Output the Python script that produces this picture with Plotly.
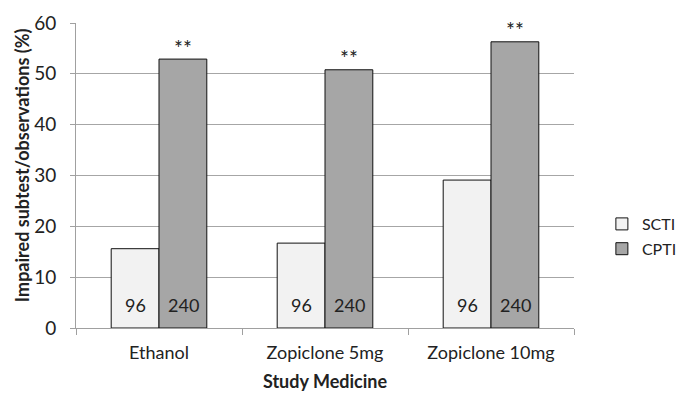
import plotly.graph_objects as go

categories = ["Ethanol", "Zopiclone 5mg", "Zopiclone 10mg"]
scti_values = [15.6, 16.7, 29.1]
cpti_values = [52.9, 50.8, 56.3]
scti_n = ["96", "96", "96"]
cpti_n = ["240", "240", "240"]
significance = ["**", "**", "**"]
y_ticks = [0, 10, 20, 30, 40, 50, 60]

FONT = "Lato, 'Open Sans', sans-serif"
BAR_HALF_PX = 24

fig = go.Figure()
fig.add_trace(go.Bar(
    name="SCTI", x=categories, y=scti_values, legendgroup="a",
    marker=dict(color="#f2f2f2", line=dict(color="#111111", width=1)),
))
fig.add_trace(go.Bar(
    name="CPTI", x=categories, y=cpti_values, legendgroup="b",
    marker=dict(color="#a6a6a6", line=dict(color="#111111", width=1)),
))

# sample size labels at the base of each bar
for cat, n1, n2 in zip(categories, scti_n, cpti_n):
    for n, sh in ((n1, -BAR_HALF_PX), (n2, BAR_HALF_PX)):
        fig.add_annotation(x=cat, y=0, text=n, showarrow=False,
                           xref="x", yref="y", xshift=sh, yshift=10,
                           yanchor="bottom",
                           font=dict(size=18, color="#222222", family=FONT))

# significance markers above CPTI bars
for cat, val, sig in zip(categories, cpti_values, significance):
    fig.add_annotation(x=cat, y=val, text=sig, showarrow=False,
                       xref="x", yref="y", xshift=BAR_HALF_PX, yshift=12,
                       font=dict(size=21, color="#222222", family=FONT))

# y-axis title
fig.add_annotation(text="<b>Impaired subtest/observations (%)</b>",
                   xref="paper", yref="paper", x=0, y=0.534,
                   xanchor="center", yanchor="middle", xshift=-54,
                   textangle=-90, showarrow=False,
                   font=dict(size=18, color="#222222", family=FONT))

fig.update_layout(
    width=684, height=404,
    margin=dict(l=76, r=110, t=23, b=76, autoexpand=False),
    paper_bgcolor="white", plot_bgcolor="white",
    barmode="group", bargap=0.424, bargroupgap=0,
    font=dict(family=FONT, color="#222222"),
    legend=dict(x=1.056, y=0.30, xanchor="left", yanchor="middle",
                font=dict(size=16, family=FONT, color="#222222"),
                tracegroupgap=1, itemwidth=30),
    xaxis=dict(
        title=dict(text="<b>Study Medicine</b>", font=dict(size=18, family=FONT), standoff=13),
        tickfont=dict(size=18, family=FONT, color="#222222"),
        showline=True, linecolor="#a0a0a0", linewidth=1,
        ticks="outside", tickson="boundaries", ticklen=6, tickcolor="#a0a0a0",
        ticklabelstandoff=8,
        showgrid=False, automargin=False,
    ),
    yaxis=dict(
        range=[0, 60], tickvals=y_ticks,
        tickfont=dict(size=19, family=FONT, color="#222222"),
        showline=True, linecolor="#a0a0a0", linewidth=1,
        ticks="outside", ticklen=5, tickcolor="#a0a0a0",
        ticklabelstandoff=10,
        showgrid=True, gridcolor="#a6a6a6", gridwidth=1,
        zeroline=False, automargin=False,
    ),
)

fig.write_html("out.html",
               config={"displayModeBar": False},
               post_script="document.body.style.margin='0';document.body.style.padding='0';")
